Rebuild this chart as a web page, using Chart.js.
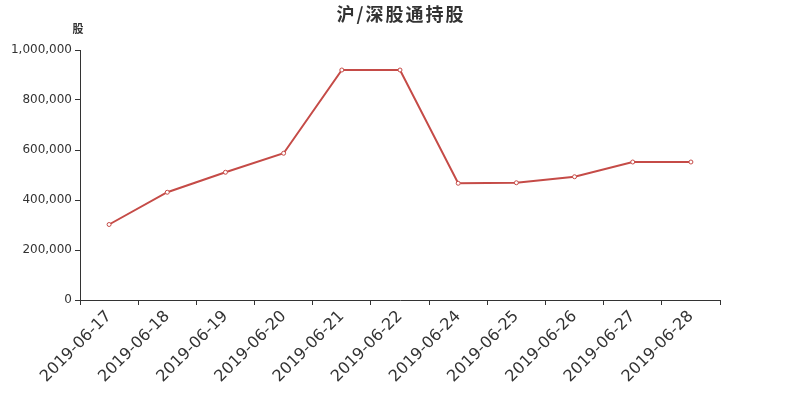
<!DOCTYPE html>
<html>
<head>
<meta charset="utf-8">
<script src="https://cdn.jsdelivr.net/npm/chart.js@4/dist/chart.umd.min.js"></script>
<style>
  html, body { margin: 0; padding: 0; background: #fff; }
  #wrap { width: 800px; height: 400px; }
</style>
</head>
<body>
<div id="wrap"><canvas id="c" width="800" height="400"></canvas></div>
<script>
var chartTitle = '沪/深股通持股';
var unitText = '股';
var dates = ['2019-06-17','2019-06-18','2019-06-19','2019-06-20','2019-06-21','2019-06-22','2019-06-24','2019-06-25','2019-06-26','2019-06-27','2019-06-28'];
var holdings = [302000, 431000, 511000, 587000, 920000, 920000, 467000, 469000, 493000, 552000, 552000];
var yTicks = [0, 200000, 400000, 600000, 800000, 1000000];

// title + unit label drawn on top of canvas
var headerText = {
  id: 'headerText',
  afterDraw: function(chart){
    var ctx = chart.ctx;
    ctx.save();
    ctx.fillStyle = '#333';
    ctx.textAlign = 'center';
    ctx.textBaseline = 'middle';
    ctx.font = 'bold 18px "Noto Sans CJK SC", sans-serif';
    try { ctx.letterSpacing = '2px'; } catch(_) {}
    ctx.fillText(chartTitle, chart.width / 2 + 1, 14);
    try { ctx.letterSpacing = '0px'; } catch(_) {}
    ctx.font = 'bold 11px "Noto Sans CJK SC", "DejaVu Sans", sans-serif';
    ctx.fillText(unitText, chart.chartArea.left - 2, 29);
    ctx.restore();
  }
};

Chart.defaults.font.family = '"DejaVu Sans", sans-serif';
Chart.defaults.color = '#333';

new Chart(document.getElementById('c'), {
  type: 'line',
  data: {
    labels: dates,
    datasets: [{
      label: chartTitle,
      data: holdings,
      borderColor: '#c54b47',
      borderWidth: 2,
      backgroundColor: '#fff',
      pointBackgroundColor: '#fff',
      pointBorderColor: '#c54b47',
      pointBorderWidth: 1,
      pointRadius: 2,
      tension: 0,
      fill: false
    }]
  },
  plugins: [headerText],
  options: {
    responsive: false,
    animation: false,
    layout: { padding: { left: 0, right: 80, top: 50, bottom: 0 } },
    plugins: {
      legend: { display: false },
      tooltip: { enabled: false },
      title: { display: false }
    },
    scales: {
      x: {
        offset: true,
        grid: { offset: true, drawOnChartArea: false, drawTicks: true, tickLength: 5, color: '#333' },
        border: { color: '#333', width: 1 },
        ticks: { minRotation: 45, maxRotation: 45, autoSkip: false, color: '#333', font: { size: 16 }, padding: 2 },
        afterFit: function(s){ s.height = 100; }
      },
      y: {
        min: 0,
        max: 1000000,
        afterBuildTicks: function(s){ s.ticks = yTicks.map(function(v){ return { value: v }; }); },
        grid: { drawOnChartArea: false, drawTicks: true, tickLength: 5, color: '#333' },
        border: { color: '#333', width: 1 },
        ticks: {
          color: '#333',
          font: { size: 12 },
          padding: 3,
          callback: function(v){ return Number(v).toLocaleString('en-US'); }
        },
        afterFit: function(s){ s.width = 80; }
      }
    }
  }
});
</script>
</body>
</html>
